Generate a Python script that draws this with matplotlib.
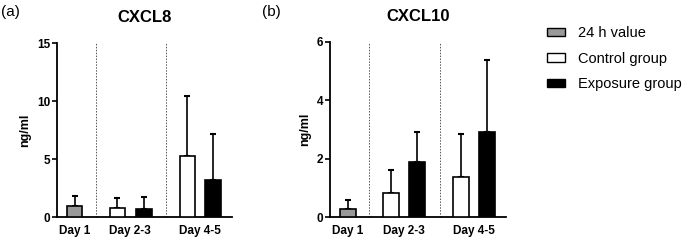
import matplotlib.pyplot as plt
from matplotlib.patches import Patch

plt.rcParams["font.family"] = ["Liberation Sans", "DejaVu Sans"]

days = ["Day 1", "Day 2-3", "Day 4-5"]
series = ["24 h value", "Control group", "Exposure group"]
colors = ["#999999", "white", "black"]

# bars in order: 24 h (Day 1), control/exposure (Day 2-3), control/exposure (Day 4-5)
bar_group = ["24 h value", "Control group", "Exposure group", "Control group", "Exposure group"]

cxcl8_mean = [0.95, 0.8, 0.7, 5.3, 3.2]
cxcl8_top = [1.85, 1.65, 1.75, 10.45, 7.15]

cxcl10_mean = [0.28, 0.82, 1.87, 1.37, 2.93]
cxcl10_top = [0.6, 1.6, 2.93, 2.85, 5.37]

# layout (in bar widths)
bar_x = [1.1, 3.8, 5.45, 8.2, 9.8]
tick_x = [1.1, 4.6, 9.0]
sep_x = [2.45, 6.85]
xmax = 11.0


def draw_panel(ax, means, tops, ymax, yticks, title):
    errs = [t - m for t, m in zip(tops, means)]
    for x, m, e, grp in zip(bar_x, means, errs, bar_group):
        c = colors[series.index(grp)]
        ax.bar(x, m, width=1.0, color=c, edgecolor="black", linewidth=1.2, zorder=3)
        ax.errorbar(x, m, yerr=[[0], [e]], fmt="none", ecolor="black",
                    elinewidth=1.2, capsize=2.5, capthick=1.5, zorder=2)
    for s in sep_x:
        ax.axvline(s, color="#555555", linestyle=(0, (1.5, 1.5)), linewidth=0.7, zorder=1)
    ax.set_xlim(0, xmax)
    ax.set_ylim(0, ymax)
    ax.set_yticks(yticks)
    ax.set_xticks(tick_x)
    ax.set_xticklabels(days, fontweight="bold", fontsize=8.5)
    ax.tick_params(axis="x", length=0, pad=6)
    ax.tick_params(axis="y", length=3.5, width=1.2, labelsize=8.5, pad=1.5)
    for lab in ax.get_yticklabels():
        lab.set_fontweight("bold")
    ax.spines["top"].set_visible(False)
    ax.spines["right"].set_visible(False)
    ax.spines["left"].set_linewidth(1.3)
    ax.spines["bottom"].set_linewidth(1.3)
    ax.set_ylabel("ng/ml", fontweight="bold", fontsize=9, labelpad=4)
    ax.set_title(title, fontweight="bold", fontsize=12, pad=15)


fig = plt.figure(figsize=(6.85, 2.41), dpi=100)
ax1 = fig.add_axes([57 / 685, 24 / 241, 175 / 685, 174 / 241])
ax2 = fig.add_axes([330 / 685, 24 / 241, 176 / 685, 175 / 241])

draw_panel(ax1, cxcl8_mean, cxcl8_top, 15, [0, 5, 10, 15], "CXCL8")
draw_panel(ax2, cxcl10_mean, cxcl10_top, 6, [0, 2, 4, 6], "CXCL10")

fig.text(1 / 685, 1 - 12 / 241, "(a)", fontsize=11, va="center")
fig.text(262 / 685, 1 - 12 / 241, "(b)", fontsize=11, va="center")

handles = [Patch(facecolor=c, edgecolor="black", linewidth=1.0) for c in colors]
fig.legend(handles, series, loc="upper left", bbox_to_anchor=(547 / 685, 1 - 26 / 241),
           frameon=False, fontsize=10.5, handlelength=1.25, handleheight=0.5,
           labelspacing=0.8, handletextpad=0.9, borderpad=0, borderaxespad=0)

plt.savefig("out.png", dpi=100)
